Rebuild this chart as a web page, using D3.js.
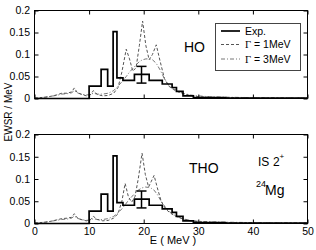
<!DOCTYPE html>
<html><head><meta charset="utf-8">
<script src="https://cdn.jsdelivr.net/npm/d3@7"></script>
<style>
html,body{margin:0;padding:0;background:#fff;}
svg{display:block;font-family:"Liberation Sans",Arial,sans-serif;}
</style></head>
<body>
<svg id="chart" width="316" height="250"></svg>
<script>
// ---- data ----
const xTicks = [0, 10, 20, 30, 40, 50];
const yTicks = [0, 0.05, 0.1, 0.15, 0.2];
const yTickLabels = ["0", "0.05", "0.1", "0.15", "0.2"];

// experimental histogram (bin edges, bin heights)
const expEdges  = [0, 10, 12.2, 13.4, 14.4, 15.1, 16.2, 18.3, 21.0, 23.4, 25.2, 26.0, 27.2, 29.1, 35, 50];
const expValues = [0, 0.028, 0.066, 0.028, 0.152, 0.047, 0.041, 0.055, 0.041, 0.033, 0.025, 0.016, 0.006, 0.002, 0.001];
const errE = 19.6, errLow = 0.035, errHigh = 0.073;

// HO panel
const hoEnergy = [0,1,2,3,4,5,6,6.8,7.3,7.8,8.5,9.5,10.2,10.8,11.5,12.5,13.5,14.5,15.3,16,16.8,17.4,18,18.6,19.2,19.8,20.4,21,21.6,22.3,23,23.8,24.6,25.5,26.5,27.5,28.5,30,32,35,40,45,50];
const hoG1 = [0.001,0.002,0.003,0.005,0.008,0.012,0.012,0.015,0.024,0.014,0.010,0.006,0.008,0.018,0.009,0.006,0.007,0.012,0.025,0.06,0.112,0.09,0.062,0.07,0.12,0.176,0.12,0.088,0.10,0.122,0.085,0.045,0.028,0.02,0.014,0.01,0.007,0.004,0.003,0.002,0.0015,0.001,0.001];
const hoG3 = [0.001,0.002,0.003,0.005,0.007,0.010,0.011,0.013,0.018,0.013,0.010,0.008,0.009,0.012,0.010,0.010,0.012,0.018,0.028,0.038,0.050,0.060,0.068,0.076,0.084,0.088,0.090,0.090,0.088,0.080,0.065,0.045,0.03,0.022,0.015,0.011,0.008,0.006,0.004,0.003,0.002,0.0015,0.001];

// THO panel
const thoEnergy = [0,1,2,3,4,5,6,6.8,7.3,7.8,8.5,9.5,10.2,10.8,11.5,12.5,13.5,14.5,15.3,16,16.6,17.2,17.8,18.4,19,19.7,20.3,20.9,21.4,21.9,22.5,23.2,24,24.8,25.6,26.5,27.5,28.5,30,32,35,40,45,50];
const thoG1 = [0.001,0.002,0.003,0.005,0.008,0.011,0.012,0.014,0.022,0.013,0.009,0.006,0.008,0.016,0.009,0.006,0.007,0.012,0.022,0.05,0.09,0.06,0.048,0.06,0.10,0.158,0.11,0.082,0.095,0.108,0.08,0.05,0.033,0.024,0.018,0.013,0.009,0.006,0.004,0.003,0.002,0.0015,0.001,0.001];
const thoG3 = [0.001,0.002,0.003,0.005,0.007,0.009,0.010,0.012,0.017,0.012,0.009,0.007,0.008,0.011,0.009,0.009,0.011,0.016,0.024,0.033,0.042,0.052,0.060,0.068,0.075,0.080,0.082,0.081,0.079,0.075,0.065,0.05,0.036,0.026,0.019,0.014,0.010,0.007,0.005,0.004,0.003,0.002,0.0015,0.001];

const legendLabels = ["Exp.", "1MeV", "3MeV"];

// ---- drawing ----
const svg = d3.select("#chart");
const xLeft = 34.5, xRight = 307.5;
const x = d3.scaleLinear().domain([0, 50]).range([xLeft, xRight]);

const panels = [
  {top: 10.5, bottom: 98.5, energy: hoEnergy, g1: hoG1, g3: hoG3, labels: false},
  {top: 134.5, bottom: 223.5, energy: thoEnergy, g1: thoG1, g3: thoG3, labels: true}
];

const styles = {
  g1: {stroke: "#555", width: 1, dash: "3,2"},
  g3: {stroke: "#777", width: 1, dash: "4,2,1,2"},
  exp: {stroke: "#000", width: 1.7}
};

panels.forEach(p => {
  const y = d3.scaleLinear().domain([0, 0.2]).range([p.bottom, p.top]);
  const g = svg.append("g");

  g.append("rect").attr("x", xLeft).attr("y", p.top)
    .attr("width", xRight - xLeft).attr("height", p.bottom - p.top)
    .attr("fill", "#fff").attr("stroke", "#000").attr("stroke-width", 1);

  const line = d3.line().x(d => x(d[0])).y(d => y(d[1]));
  const plot = g.append("g");
  plot.append("path").datum(p.energy.map((e, i) => [e, p.g3[i]]))
    .attr("d", line).attr("fill", "none")
    .attr("stroke", styles.g3.stroke).attr("stroke-width", styles.g3.width)
    .attr("stroke-dasharray", styles.g3.dash);
  plot.append("path").datum(p.energy.map((e, i) => [e, p.g1[i]]))
    .attr("d", line).attr("fill", "none")
    .attr("stroke", styles.g1.stroke).attr("stroke-width", styles.g1.width)
    .attr("stroke-dasharray", styles.g1.dash);

  const stepData = expEdges.map((e, i) => [e, i < expValues.length ? expValues[i] : expValues[expValues.length - 1]]);
  plot.append("path").datum(stepData)
    .attr("d", d3.line().curve(d3.curveStepAfter).x(d => x(d[0])).y(d => y(d[1])))
    .attr("fill", "none").attr("stroke", styles.exp.stroke).attr("stroke-width", styles.exp.width);

  // error bar
  const eb = plot.append("g").attr("stroke", "#000").attr("stroke-width", 1.5);
  eb.append("line").attr("x1", x(errE)).attr("x2", x(errE)).attr("y1", y(errLow)).attr("y2", y(errHigh));
  eb.append("line").attr("x1", x(errE) - 5).attr("x2", x(errE) + 5).attr("y1", y(errLow)).attr("y2", y(errLow));
  eb.append("line").attr("x1", x(errE) - 5).attr("x2", x(errE) + 5).attr("y1", y(errHigh)).attr("y2", y(errHigh));

  // axes
  const fs = "10.5px";
  const left = g.append("g").attr("transform", `translate(${xLeft},0)`)
    .call(d3.axisLeft(y).tickValues(yTicks).tickFormat((d, i) => yTickLabels[i]).tickSizeInner(-4).tickSizeOuter(0).tickPadding(4.5));
  const right = g.append("g").attr("transform", `translate(${xRight},0)`)
    .call(d3.axisRight(y).tickValues(yTicks).tickFormat("").tickSizeInner(-4).tickSizeOuter(0));
  const bottom = g.append("g").attr("transform", `translate(0,${p.bottom})`)
    .call(d3.axisBottom(x).tickValues(xTicks).tickFormat(p.labels ? d3.format("d") : "").tickSizeInner(-4).tickSizeOuter(0).tickPadding(4));
  const top = g.append("g").attr("transform", `translate(0,${p.top})`)
    .call(d3.axisTop(x).tickValues(xTicks).tickFormat("").tickSizeInner(-4).tickSizeOuter(0));
  [left, right, bottom, top].forEach(a => {
    a.select(".domain").remove();
    a.selectAll("line").attr("stroke", "#000");
    a.selectAll("text").attr("font-size", fs).attr("fill", "#000")
      .attr("font-family", '"Liberation Sans",Arial,sans-serif');
  });
});

// panel labels
svg.append("text").attr("x", 184).attr("y", 52).attr("font-size", "14px").text("HO");
svg.append("text").attr("x", 189).attr("y", 173).attr("font-size", "14px").text("THO");
svg.append("text").attr("x", 258).attr("y", 166).attr("font-size", "12px").text("IS");
svg.append("text").attr("x", 273).attr("y", 166).attr("font-size", "12px").text("2");
svg.append("text").attr("x", 279.5).attr("y", 159).attr("font-size", "8px").text("+");
svg.append("text").attr("x", 256).attr("y", 187).attr("font-size", "9px").text("24");
svg.append("text").attr("x", 265).attr("y", 195).attr("font-size", "14px").text("Mg");

// axis titles
svg.append("text").attr("transform", "translate(12,112) rotate(-90)")
  .attr("text-anchor", "middle").attr("font-size", "10px").text("EWSR / MeV");
svg.append("text").attr("x", 173).attr("y", 244)
  .attr("text-anchor", "middle").attr("font-size", "11px").text("E ( MeV )");

// legend
const lg = svg.append("g");
lg.append("rect").attr("x", 215.5).attr("y", 23.5).attr("width", 85).attr("height", 47)
  .attr("fill", "#fff").attr("stroke", "#444").attr("stroke-width", 1);
const legendRows = [
  {y: 31, style: styles.exp},
  {y: 44.5, style: styles.g1},
  {y: 59, style: styles.g3}
];
legendRows.forEach((r, i) => {
  lg.append("line").attr("x1", 221).attr("x2", 240).attr("y1", r.y).attr("y2", r.y)
    .attr("stroke", r.style.stroke).attr("stroke-width", r.style.width)
    .attr("stroke-dasharray", r.style.dash || null);
  const t = lg.append("text").attr("x", 245).attr("y", r.y + 3.8).attr("font-size", "10.5px");
  if (i === 0) {
    t.text(legendLabels[0]);
  } else {
    t.append("tspan").attr("font-family", '"Liberation Serif",serif').text("Γ");
    t.append("tspan").text(" = " + legendLabels[i]);
  }
});
</script>
</body></html>
